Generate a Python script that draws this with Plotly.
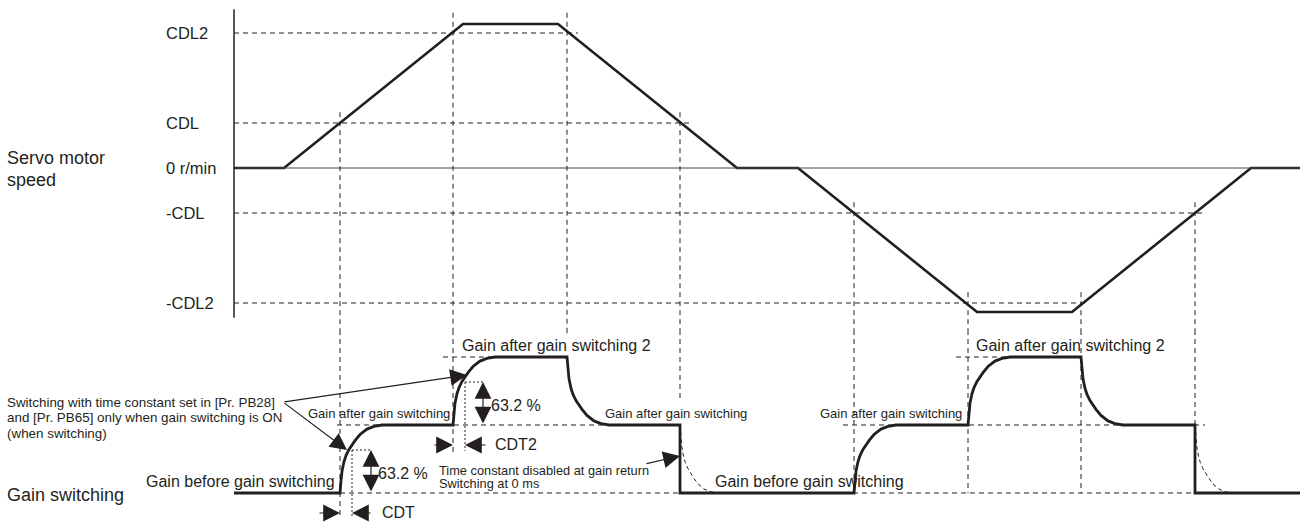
import plotly.graph_objects as go

INK = "#231f20"
FONT = "Arial, Liberation Sans, sans-serif"

# servo motor speed, time in drawing units, speed in units of CDL
speed_t = [234, 284, 463, 558, 737, 798, 977, 1072, 1251, 1300]
speed_v = [0, 0, 3.2, 3.2, 0, 0, -3.2, -3.2, 0, 0]

level_names = ["CDL2", "CDL", "0 r/min", "-CDL", "-CDL2"]
level_values = [3, 1, 0, -1, -3]

# moments the speed crosses a level, and which level it is
cross_t = [340, 453, 567, 680, 854, 968, 1081, 1195]
cross_level = [1, 3, 3, 1, -1, -3, -3, -1]

# gain after each crossing: 0 = before switching, 1 = after, 2 = after switching 2
gain_after = [1, 2, 1, 0, 1, 2, 1, 0]
gain_filtered = [True, True, True, False, True, True, True, False]

# shape of a filtered switch
rise_dt = [0, 1, 2, 4, 6, 9, 12, 15, 20, 27, 34, 42]
rise_frac = [0, 0.18, 0.32, 0.46, 0.55, 0.64, 0.71, 0.77, 0.86, 0.94, 0.98, 1.0]
cdt = 12
pct = 0.632

# gain line
gx, gy = [234], [0]
ghosts = []
cur = 0
for t, g, filt in zip(cross_t, gain_after, gain_filtered):
    gx.append(t)
    gy.append(cur)
    if filt:
        for dt, f in zip(rise_dt[1:], rise_frac[1:]):
            gx.append(t + dt)
            gy.append(cur + (g - cur) * f)
    else:
        gx.append(t)
        gy.append(g)
        ghosts.append(([t + dt * 0.88 for dt in rise_dt], [cur + (g - cur) * f for f in rise_frac]))
    cur = g
gx.append(1300)
gy.append(cur)

fig = go.Figure()

fig.add_trace(go.Scatter(x=speed_t, y=speed_v, mode="lines", line=dict(color=INK, width=2.6),
                         xaxis="x", yaxis="y", hoverinfo="skip"))
fig.add_trace(go.Scatter(x=gx, y=gy, mode="lines", line=dict(color=INK, width=2.8),
                         xaxis="x", yaxis="y2", hoverinfo="skip"))
for hx, hy in ghosts:
    fig.add_trace(go.Scatter(x=hx, y=hy, mode="lines", line=dict(color=INK, width=1, dash="4px,3px"),
                             xaxis="x", yaxis="y2", hoverinfo="skip"))

DASH = dict(color=INK, width=1, dash="5px,4px")
DOT = dict(color=INK, width=1, dash="2px,2px")

def hline(y, x0, x1, yref="y", line=DASH):
    fig.add_shape(type="line", xref="x", yref=yref, x0=x0, x1=x1, y0=y, y1=y, line=line)

def vline(x, y0, y1, yref="y", line=DASH):
    fig.add_shape(type="line", xref="x", yref=yref, x0=x, x1=x, y0=y0, y1=y1, line=line)

# speed panel
speed_dash_end = [578, 692, None, 1205, 1088]
for v, end in zip(level_values, speed_dash_end):
    if end:
        hline(v, 234, end)
hline(0, 234, 1300, line=dict(color="#444", width=1))
vline(234, 3.53, -3.33, line=dict(color=INK, width=1.5))

gain_bottom = [-0.38, 0.6, 2.35, 1.37, 0, 0, 0, 0]
for t, lv, bot in zip(cross_t, cross_level, gain_bottom):
    top = lv + (0.45 if lv >= 3 else 0.24)
    vline(t, top, -3.6)
    vline(t, 2.397, bot, yref="y2")

# gain panel guides
hline(0, 340, 1195, yref="y2")
hline(1, 337, 680, yref="y2")
hline(1, 843, 1205, yref="y2")
hline(2, 443, 498, yref="y2")
hline(2, 956, 1012, yref="y2")
t1, t2 = cross_t[0], cross_t[1]
vline(t1 + cdt, pct, -0.35, yref="y2", line=DOT)
hline(pct, t1 + cdt, t1 + 32, yref="y2", line=DOT)
vline(t2 + cdt, 1 + pct, 0.62, yref="y2", line=DOT)
hline(1 + pct, t2 + cdt, t2 + 30, yref="y2", line=DOT)

def label(x, y, text, size, yref="y2", anchor="left"):
    fig.add_annotation(x=x, y=y, xref="x", yref=yref, text=text, showarrow=False,
                       xanchor=anchor, yanchor="middle", font=dict(family=FONT, size=size, color=INK))

def arrow(x, y, ax, ay, yref="y2", both=False, size=2.8, width=1.2):
    fig.add_annotation(x=x, y=y, ax=ax, ay=ay, xref="x", yref=yref, axref="x", ayref=yref,
                       text="", showarrow=True, arrowhead=2, arrowsize=size, arrowwidth=width,
                       arrowcolor=INK, standoff=0, startstandoff=0,
                       arrowside="end+start" if both else "end", startarrowhead=2, startarrowsize=size)

for name, v in zip(level_names, level_values):
    label(164, v, name, 16.5, yref="y")
label(5, 0.22, "Servo motor", 18, yref="y")
label(5, -0.27, "speed", 18, yref="y")

label(5, -0.03, "Gain switching", 18)
label(5, 1.338, "Switching with time constant set in [Pr. PB28]", 13.4)
label(5, 1.103, "and [Pr. PB65] only when gain switching is ON", 13.4)
label(5, 0.868, "(when switching)", 13.4)
label(337, 0.162, "Gain before gain switching", 16, anchor="right")
label(452, 1.176, "Gain after gain switching", 13, anchor="right")
label(460, 2.176, "Gain after gain switching 2", 16)
label(376, 0.294, "63.2 %", 16)
label(380, -0.294, "CDT", 16)
label(493, 0.706, "CDT2", 16)
label(489, 1.294, "63.2 %", 16)
label(603, 1.176, "Gain after gain switching", 13)
label(437, 0.335, "Time constant disabled at gain return", 12.8)
label(437, 0.145, "Switching at 0 ms", 12.8)
label(713, 0.162, "Gain before gain switching", 16)
label(964, 1.176, "Gain after gain switching", 13, anchor="right")
label(974, 2.176, "Gain after gain switching 2", 16)

# callouts
arrow(467, 1.735, 283, 1.338)
arrow(347, 0.632, 283, 1.338)
arrow(680, 0.544, 645, 0.426)
# 63.2 % spans
arrow(371, pct, 371, 0, both=True)
arrow(483, 1 + pct, 483, 1, both=True)
# CDT / CDT2 markers
arrow(t1, -0.294, t1 - 22, -0.294)
arrow(t1 + cdt, -0.294, t1 + 32, -0.294)
arrow(t2, 0.706, t2 - 20, 0.706)
arrow(t2 + cdt, 0.706, t2 + 34, 0.706)

fig.update_layout(
    width=1300, height=522, margin=dict(l=0, r=0, t=0, b=0),
    paper_bgcolor="white", plot_bgcolor="white", showlegend=False,
    xaxis=dict(range=[0, 1300], visible=False),
    yaxis=dict(range=[-3.6, 3.7333], domain=[0.3678, 1], visible=False),
    yaxis2=dict(range=[-0.4265, 2.397], domain=[0, 0.3678], visible=False),
)

# the page body has a default margin; drop it so the figure sits at the window's corner
fig.write_html("out.html", config={"displayModeBar": False},
               post_script="document.body.style.margin='0';")
